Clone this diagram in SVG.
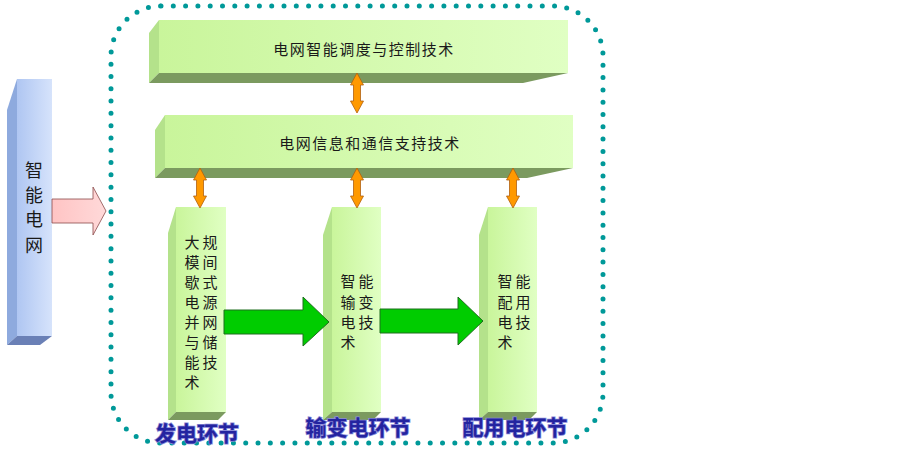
<svg xmlns="http://www.w3.org/2000/svg" xmlns:xlink="http://www.w3.org/1999/xlink" width="902" height="449" viewBox="0 0 902 449">
<defs>
<linearGradient id="gFront" x1="0" y1="0" x2="1" y2="0">
<stop offset="0" stop-color="#c9f59b"/>
<stop offset="1" stop-color="#e0ffc3"/>
</linearGradient>
<linearGradient id="bFront" x1="0" y1="0" x2="1" y2="0">
<stop offset="0" stop-color="#afc6f2"/>
<stop offset="1" stop-color="#d6e3fb"/>
</linearGradient>
<linearGradient id="pink" x1="0" y1="0" x2="1" y2="0">
<stop offset="0" stop-color="#ffc4c4"/>
<stop offset="1" stop-color="#ffd9d9"/>
</linearGradient>
<polygon id="dbl" points="0,0 6.5,12 3.5,12 3.5,28 6.5,28 0,40 -6.5,28 -3.5,28 -3.5,12 -6.5,12" fill="#ff9900" stroke="#b06010" stroke-width="0.8"/>
<style>
.front{fill:url(#gFront);}
.side{fill:#b4e28b;}
.bottom{fill:#7b9a5f;}
.txt{font-family:"Noto Sans CJK SC","Noto Sans",sans-serif;font-size:15px;fill:#1a1a1a;}
.col{letter-spacing:3px;}
.lbl{font-family:"Noto Sans CJK SC","Noto Sans",sans-serif;font-size:21px;font-weight:bold;fill:#2424a0;stroke:#8a8ad8;stroke-width:1.6px;paint-order:stroke;text-anchor:middle;}
.garrow{fill:#00cc00;stroke:#1e6e1e;stroke-width:1;}
</style>
</defs>
<rect x="0" y="0" width="902" height="449" fill="#ffffff"/>

<g id="border">
<rect x="111" y="6" width="492" height="437" rx="50" ry="50" fill="none" stroke="#009999" stroke-width="5" stroke-linecap="round" stroke-dasharray="0 12.3"/>
</g>

<g id="smart-grid">
<polygon points="7,110 17,79 17,336 7,345" fill="#8eaade"/>
<polygon points="7,345 17,336 52,336 40,345" fill="#6a80b6"/>
<rect x="17" y="79" width="35" height="257" fill="url(#bFront)"/>
<g font-family="&quot;Noto Sans CJK SC&quot;,&quot;Noto Sans&quot;,sans-serif" font-size="18" fill="#1a1a1a" text-anchor="middle">
<text x="34" y="177">智</text>
<text x="34" y="202">能</text>
<text x="34" y="226">电</text>
<text x="34" y="252">网</text>
</g>
</g>

<g id="dispatch">
<polygon class="side" points="149,33 159,20 159,73 149,83"/>
<polygon class="bottom" points="149,83 159,73 568,73 523,83"/>
<rect class="front" x="159" y="20" width="409" height="53"/>
<text class="txt" x="364" y="54.5" text-anchor="middle" letter-spacing="1.5">电网智能调度与控制技术</text>
</g>

<g id="info">
<polygon class="side" points="155,130 165,115 165,168 155,178"/>
<polygon class="bottom" points="155,178 165,168 573,168 527,178"/>
<rect class="front" x="165" y="115" width="408" height="53"/>
<text class="txt" x="370" y="148.5" text-anchor="middle" letter-spacing="1.5">电网信息和通信支持技术</text>
</g>

<g id="generation">
<polygon class="side" points="168,233 176,207 176,412 168,420"/>
<polygon class="bottom" points="168,420 176,412 226,412 218,420"/>
<rect class="front" x="176" y="207" width="50" height="205"/>
<text class="txt col" x="184.5">
<tspan x="184.5" y="247.5">大规</tspan>
<tspan x="184.5" y="267.5">模间</tspan>
<tspan x="184.5" y="287.5">歇式</tspan>
<tspan x="184.5" y="307.5">电源</tspan>
<tspan x="184.5" y="327.5">并网</tspan>
<tspan x="184.5" y="347.5">与储</tspan>
<tspan x="184.5" y="367.5">能技</tspan>
<tspan x="184.5" y="388">术</tspan>
</text>
<text class="lbl" x="197" y="440.5">发电环节</text>
</g>

<g id="transmission">
<polygon class="side" points="323,235 332,207 332,412 323,420"/>
<polygon class="bottom" points="323,420 332,412 381,412 373,420"/>
<rect class="front" x="332" y="207" width="49" height="205"/>
<text class="txt col" x="340.5">
<tspan x="340.5" y="287">智能</tspan>
<tspan x="340.5" y="307.5">输变</tspan>
<tspan x="340.5" y="327.5">电技</tspan>
<tspan x="340.5" y="348">术</tspan>
</text>
<text class="lbl" x="358" y="435">输变电环节</text>
</g>

<g id="distribution">
<polygon class="side" points="479,235 488,207 488,412 479,420"/>
<polygon class="bottom" points="479,420 488,412 537,412 529,420"/>
<rect class="front" x="488" y="207" width="49" height="205"/>
<text class="txt col" x="497.5">
<tspan x="497.5" y="287">智能</tspan>
<tspan x="497.5" y="307.5">配用</tspan>
<tspan x="497.5" y="327.5">电技</tspan>
<tspan x="497.5" y="348">术</tspan>
</text>
<text class="lbl" x="515" y="435">配用电环节</text>
</g>

<g id="connectors">
<polygon points="52,199 93,199 93,187 106,211 93,235 93,223 52,223" fill="url(#pink)" stroke="#8a4a4a" stroke-width="0.8"/>
<use xlink:href="#dbl" transform="translate(357,73)"/>
<use xlink:href="#dbl" transform="translate(200,168)"/>
<use xlink:href="#dbl" transform="translate(357,168)"/>
<use xlink:href="#dbl" transform="translate(513,168)"/>
<polygon class="garrow" points="224,310 303,310 303,297 329,322 303,346 303,334 224,334"/>
<polygon class="garrow" points="380,309 458,309 458,297 483,321 458,345 458,333 380,333"/>
</g>
</svg>
